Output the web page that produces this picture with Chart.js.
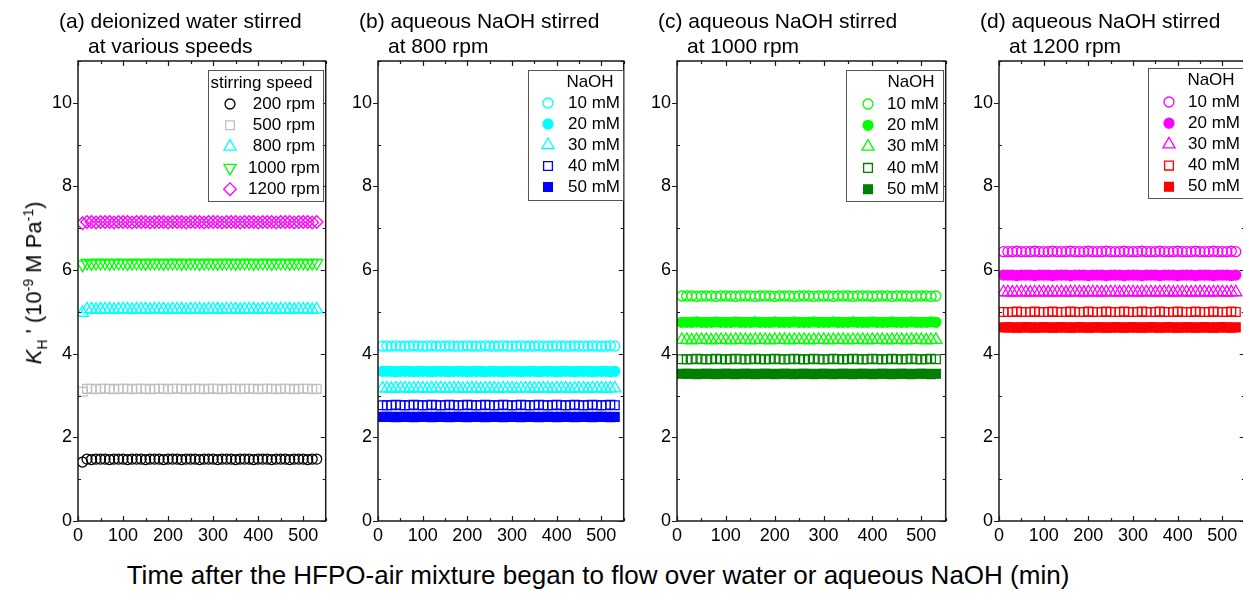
<!DOCTYPE html>
<html>
<head>
<meta charset="utf-8">
<script src="https://cdn.jsdelivr.net/npm/chart.js@4.4.0/dist/chart.umd.min.js"></script>
<style>
  html, body { margin: 0; padding: 0; background: #fff; overflow: hidden; }
  body { width: 1243px; height: 593px; position: relative; font-family: "Liberation Sans", Arial, sans-serif; color: #000; }
  .panel { position: absolute; top: 0; }
  #xTitle { position: absolute; left: 0; width: 1196px; top: 560px; line-height: 30px; text-align: center; font-size: 26px; white-space: nowrap; }
  #yTitle { position: absolute; left: 35px; top: 283px; font-size: 22px; white-space: nowrap; transform: translate(-50%, -50%) rotate(-90deg); }
  #yTitle sub, #yTitle sup { font-size: 14px; }
</style>
</head>
<body>

<div class="panel" style="left:0px"><canvas id="pa" width="334" height="560"></canvas></div>
<div class="panel" style="left:333px"><canvas id="pb" width="299" height="560"></canvas></div>
<div class="panel" style="left:632px"><canvas id="pc" width="322" height="560"></canvas></div>
<div class="panel" style="left:954px"><canvas id="pd" width="299" height="560"></canvas></div>

<div id="yTitle"><i>K</i><sub>H</sub> ' (10<sup>-9</sup> M Pa<sup>-1</sup>)</div>
<div id="xTitle">Time after the HFPO-air mixture began to flow over water or aqueous NaOH (min)</div>

<script>
// sampling times (min)
const times = [10, 20, 30, 40, 50, 60, 70, 80, 90, 100, 110, 120, 130, 140, 150, 160, 170, 180, 190, 200,
  210, 220, 230, 240, 250, 260, 270, 280, 290, 300, 310, 320, 330, 340, 350, 360, 370, 380, 390, 400,
  410, 420, 430, 440, 450, 460, 470, 480, 490, 500, 510, 520, 530];

const speedLabels = ['200 rpm', '500 rpm', '800 rpm', '1000 rpm', '1200 rpm'];
const naohLabels = ['10 mM', '20 mM', '30 mM', '40 mM', '50 mM'];
const xTicks = [0, 100, 200, 300, 400, 500];
const yTicks = [0, 2, 4, 6, 8, 10];

// (a) deionized water, K_H' per stirring speed
const w200 = [1.41, 1.48, 1.47, 1.48, 1.48, 1.48, 1.47, 1.48, 1.48, 1.48, 1.47, 1.48, 1.48, 1.48, 1.47, 1.48, 1.48, 1.48, 1.47, 1.48, 1.48, 1.48, 1.47, 1.48, 1.48, 1.48, 1.47, 1.48, 1.48, 1.48, 1.47, 1.48, 1.48, 1.48, 1.47, 1.48, 1.48, 1.48, 1.47, 1.48, 1.48, 1.48, 1.47, 1.48, 1.48, 1.48, 1.47, 1.48, 1.48, 1.48, 1.47, 1.48, 1.48];
const w500 = [3.09, 3.16, 3.16, 3.15, 3.16, 3.16, 3.16, 3.15, 3.16, 3.16, 3.16, 3.15, 3.16, 3.16, 3.16, 3.15, 3.16, 3.16, 3.16, 3.15, 3.16, 3.16, 3.16, 3.15, 3.16, 3.16, 3.16, 3.15, 3.16, 3.16, 3.16, 3.15, 3.16, 3.16, 3.16, 3.15, 3.16, 3.16, 3.16, 3.15, 3.16, 3.16, 3.16, 3.15, 3.16, 3.16, 3.16, 3.15, 3.16, 3.16, 3.16, 3.15, 3.16];
const w800 = [4.98, 5.06, 5.06, 5.05, 5.06, 5.06, 5.06, 5.05, 5.06, 5.06, 5.06, 5.05, 5.06, 5.06, 5.06, 5.05, 5.06, 5.06, 5.06, 5.05, 5.06, 5.06, 5.06, 5.05, 5.06, 5.06, 5.06, 5.05, 5.06, 5.06, 5.06, 5.05, 5.06, 5.06, 5.06, 5.05, 5.06, 5.06, 5.06, 5.05, 5.06, 5.06, 5.06, 5.05, 5.06, 5.06, 5.06, 5.05, 5.06, 5.06, 5.06, 5.05, 5.06];
const w1000 = [6.13, 6.17, 6.16, 6.17, 6.17, 6.17, 6.16, 6.17, 6.17, 6.17, 6.16, 6.17, 6.17, 6.17, 6.16, 6.17, 6.17, 6.17, 6.16, 6.17, 6.17, 6.17, 6.16, 6.17, 6.17, 6.17, 6.16, 6.17, 6.17, 6.17, 6.16, 6.17, 6.17, 6.17, 6.16, 6.17, 6.17, 6.17, 6.16, 6.17, 6.17, 6.17, 6.16, 6.17, 6.17, 6.17, 6.16, 6.17, 6.17, 6.17, 6.16, 6.17, 6.17];
const w1200 = [7.12, 7.15, 7.15, 7.14, 7.15, 7.15, 7.15, 7.14, 7.15, 7.15, 7.15, 7.14, 7.15, 7.15, 7.15, 7.14, 7.15, 7.15, 7.15, 7.14, 7.15, 7.15, 7.15, 7.14, 7.15, 7.15, 7.15, 7.14, 7.15, 7.15, 7.15, 7.14, 7.15, 7.15, 7.15, 7.14, 7.15, 7.15, 7.15, 7.14, 7.15, 7.15, 7.15, 7.14, 7.15, 7.15, 7.15, 7.14, 7.15, 7.15, 7.15, 7.14, 7.15];

// (b) NaOH at 800 rpm
const b10 = [4.18, 4.18, 4.18, 4.19, 4.18, 4.18, 4.18, 4.19, 4.18, 4.18, 4.18, 4.19, 4.18, 4.18, 4.18, 4.19, 4.18, 4.18, 4.18, 4.19, 4.18, 4.18, 4.18, 4.19, 4.18, 4.18, 4.18, 4.19, 4.18, 4.18, 4.18, 4.19, 4.18, 4.18, 4.18, 4.19, 4.18, 4.18, 4.18, 4.19, 4.18, 4.18, 4.18, 4.19, 4.18, 4.18, 4.18, 4.19, 4.18, 4.18, 4.18, 4.19, 4.18];
const b20 = [3.58, 3.58, 3.58, 3.57, 3.58, 3.58, 3.58, 3.57, 3.58, 3.58, 3.58, 3.57, 3.58, 3.58, 3.58, 3.57, 3.58, 3.58, 3.58, 3.57, 3.58, 3.58, 3.58, 3.57, 3.58, 3.58, 3.58, 3.57, 3.58, 3.58, 3.58, 3.57, 3.58, 3.58, 3.58, 3.57, 3.58, 3.58, 3.58, 3.57, 3.58, 3.58, 3.58, 3.57, 3.58, 3.58, 3.58, 3.57, 3.58, 3.58, 3.58, 3.57, 3.58];
const b30 = [3.17, 3.17, 3.16, 3.17, 3.17, 3.17, 3.16, 3.17, 3.17, 3.17, 3.16, 3.17, 3.17, 3.17, 3.16, 3.17, 3.17, 3.17, 3.16, 3.17, 3.17, 3.17, 3.16, 3.17, 3.17, 3.17, 3.16, 3.17, 3.17, 3.17, 3.16, 3.17, 3.17, 3.17, 3.16, 3.17, 3.17, 3.17, 3.16, 3.17, 3.17, 3.17, 3.16, 3.17, 3.17, 3.17, 3.16, 3.17, 3.17, 3.17, 3.16, 3.17, 3.17];
const b40 = [2.77, 2.77, 2.77, 2.78, 2.77, 2.77, 2.77, 2.78, 2.77, 2.77, 2.77, 2.78, 2.77, 2.77, 2.77, 2.78, 2.77, 2.77, 2.77, 2.78, 2.77, 2.77, 2.77, 2.78, 2.77, 2.77, 2.77, 2.78, 2.77, 2.77, 2.77, 2.78, 2.77, 2.77, 2.77, 2.78, 2.77, 2.77, 2.77, 2.78, 2.77, 2.77, 2.77, 2.78, 2.77, 2.77, 2.77, 2.78, 2.77, 2.77, 2.77, 2.78, 2.77];
const b50 = [2.49, 2.49, 2.49, 2.48, 2.49, 2.49, 2.49, 2.48, 2.49, 2.49, 2.49, 2.48, 2.49, 2.49, 2.49, 2.48, 2.49, 2.49, 2.49, 2.48, 2.49, 2.49, 2.49, 2.48, 2.49, 2.49, 2.49, 2.48, 2.49, 2.49, 2.49, 2.48, 2.49, 2.49, 2.49, 2.48, 2.49, 2.49, 2.49, 2.48, 2.49, 2.49, 2.49, 2.48, 2.49, 2.49, 2.49, 2.48, 2.49, 2.49, 2.49, 2.48, 2.49];

// (c) NaOH at 1000 rpm
const c10 = [5.38, 5.38, 5.38, 5.37, 5.38, 5.38, 5.38, 5.37, 5.38, 5.38, 5.38, 5.37, 5.38, 5.38, 5.38, 5.37, 5.38, 5.38, 5.38, 5.37, 5.38, 5.38, 5.38, 5.37, 5.38, 5.38, 5.38, 5.37, 5.38, 5.38, 5.38, 5.37, 5.38, 5.38, 5.38, 5.37, 5.38, 5.38, 5.38, 5.37, 5.38, 5.38, 5.38, 5.37, 5.38, 5.38, 5.38, 5.37, 5.38, 5.38, 5.38, 5.37, 5.38];
const c20 = [4.75, 4.75, 4.75, 4.76, 4.75, 4.75, 4.75, 4.76, 4.75, 4.75, 4.75, 4.76, 4.75, 4.75, 4.75, 4.76, 4.75, 4.75, 4.75, 4.76, 4.75, 4.75, 4.75, 4.76, 4.75, 4.75, 4.75, 4.76, 4.75, 4.75, 4.75, 4.76, 4.75, 4.75, 4.75, 4.76, 4.75, 4.75, 4.75, 4.76, 4.75, 4.75, 4.75, 4.76, 4.75, 4.75, 4.75, 4.76, 4.75, 4.75, 4.75, 4.76, 4.75];
const c30 = [4.33, 4.33, 4.32, 4.33, 4.33, 4.33, 4.32, 4.33, 4.33, 4.33, 4.32, 4.33, 4.33, 4.33, 4.32, 4.33, 4.33, 4.33, 4.32, 4.33, 4.33, 4.33, 4.32, 4.33, 4.33, 4.33, 4.32, 4.33, 4.33, 4.33, 4.32, 4.33, 4.33, 4.33, 4.32, 4.33, 4.33, 4.33, 4.32, 4.33, 4.33, 4.33, 4.32, 4.33, 4.33, 4.33, 4.32, 4.33, 4.33, 4.33, 4.32, 4.33, 4.33];
const c40 = [3.87, 3.87, 3.87, 3.88, 3.87, 3.87, 3.87, 3.88, 3.87, 3.87, 3.87, 3.88, 3.87, 3.87, 3.87, 3.88, 3.87, 3.87, 3.87, 3.88, 3.87, 3.87, 3.87, 3.88, 3.87, 3.87, 3.87, 3.88, 3.87, 3.87, 3.87, 3.88, 3.87, 3.87, 3.87, 3.88, 3.87, 3.87, 3.87, 3.88, 3.87, 3.87, 3.87, 3.88, 3.87, 3.87, 3.87, 3.88, 3.87, 3.87, 3.87, 3.88, 3.87];
const c50 = [3.52, 3.52, 3.52, 3.51, 3.52, 3.52, 3.52, 3.51, 3.52, 3.52, 3.52, 3.51, 3.52, 3.52, 3.52, 3.51, 3.52, 3.52, 3.52, 3.51, 3.52, 3.52, 3.52, 3.51, 3.52, 3.52, 3.52, 3.51, 3.52, 3.52, 3.52, 3.51, 3.52, 3.52, 3.52, 3.51, 3.52, 3.52, 3.52, 3.51, 3.52, 3.52, 3.52, 3.51, 3.52, 3.52, 3.52, 3.51, 3.52, 3.52, 3.52, 3.51, 3.52];

// (d) NaOH at 1200 rpm
const d10 = [6.44, 6.44, 6.44, 6.45, 6.44, 6.44, 6.44, 6.45, 6.44, 6.44, 6.44, 6.45, 6.44, 6.44, 6.44, 6.45, 6.44, 6.44, 6.44, 6.45, 6.44, 6.44, 6.44, 6.45, 6.44, 6.44, 6.44, 6.45, 6.44, 6.44, 6.44, 6.45, 6.44, 6.44, 6.44, 6.45, 6.44, 6.44, 6.44, 6.45, 6.44, 6.44, 6.44, 6.45, 6.44, 6.44, 6.44, 6.45, 6.44, 6.44, 6.44, 6.45, 6.44];
const d20 = [5.88, 5.88, 5.88, 5.87, 5.88, 5.88, 5.88, 5.87, 5.88, 5.88, 5.88, 5.87, 5.88, 5.88, 5.88, 5.87, 5.88, 5.88, 5.88, 5.87, 5.88, 5.88, 5.88, 5.87, 5.88, 5.88, 5.88, 5.87, 5.88, 5.88, 5.88, 5.87, 5.88, 5.88, 5.88, 5.87, 5.88, 5.88, 5.88, 5.87, 5.88, 5.88, 5.88, 5.87, 5.88, 5.88, 5.88, 5.87, 5.88, 5.88, 5.88, 5.87, 5.88];
const d30 = [5.47, 5.47, 5.46, 5.47, 5.47, 5.47, 5.46, 5.47, 5.47, 5.47, 5.46, 5.47, 5.47, 5.47, 5.46, 5.47, 5.47, 5.47, 5.46, 5.47, 5.47, 5.47, 5.46, 5.47, 5.47, 5.47, 5.46, 5.47, 5.47, 5.47, 5.46, 5.47, 5.47, 5.47, 5.46, 5.47, 5.47, 5.47, 5.46, 5.47, 5.47, 5.47, 5.46, 5.47, 5.47, 5.47, 5.46, 5.47, 5.47, 5.47, 5.46, 5.47, 5.47];
const d40 = [5.00, 5.00, 5.00, 5.01, 5.00, 5.00, 5.00, 5.01, 5.00, 5.00, 5.00, 5.01, 5.00, 5.00, 5.00, 5.01, 5.00, 5.00, 5.00, 5.01, 5.00, 5.00, 5.00, 5.01, 5.00, 5.00, 5.00, 5.01, 5.00, 5.00, 5.00, 5.01, 5.00, 5.00, 5.00, 5.01, 5.00, 5.00, 5.00, 5.01, 5.00, 5.00, 5.00, 5.01, 5.00, 5.00, 5.00, 5.01, 5.00, 5.00, 5.00, 5.01, 5.00];
const d50 = [4.63, 4.63, 4.63, 4.62, 4.63, 4.63, 4.63, 4.62, 4.63, 4.63, 4.63, 4.62, 4.63, 4.63, 4.63, 4.62, 4.63, 4.63, 4.63, 4.62, 4.63, 4.63, 4.63, 4.62, 4.63, 4.63, 4.63, 4.62, 4.63, 4.63, 4.63, 4.62, 4.63, 4.63, 4.63, 4.62, 4.63, 4.63, 4.63, 4.62, 4.63, 4.63, 4.63, 4.62, 4.63, 4.63, 4.63, 4.62, 4.63, 4.63, 4.63, 4.62, 4.63];

const FONT = '"Liberation Sans", Arial, sans-serif';
Chart.defaults.font.family = FONT;
Chart.defaults.color = '#000';

const pts = vals => times.map((t, i) => ({ x: t, y: vals[i] }));

// marker styles
const CYAN = '#00ffff', GREEN = '#00ff00', DKGREEN = '#008000', BLUE = '#0000ff', MAGENTA = '#ff00ff', RED = '#ff0000';
const openCircle = c => ({ style: 'circle', r: 5, color: c, fill: false });
const fullCircle = c => ({ style: 'circle', r: 5, color: c, fill: true });
const openTri = c => ({ style: 'triangle', r: 7, color: c, fill: false });
const openSq = c => ({ style: 'rect', r: 6.2, color: c, fill: false });
const fullSq = c => ({ style: 'rect', r: 6.2, color: c, fill: true });

function makeSet(label, vals, m) {
  return {
    label,
    data: pts(vals),
    showLine: false,
    pointStyle: m.style,
    pointRotation: m.rot || 0,
    pointRadius: m.r,
    pointHoverRadius: m.r,
    pointBorderWidth: 1.3,
    pointBorderColor: m.color,
    pointBackgroundColor: m.fill ? m.color : 'rgba(0,0,0,0)'
  };
}

const panels = [
  {
    id: 'pa', left: 0, plotLeft: 78,
    title: ['(a) deionized water stirred', 'at various speeds'],
    sets: [
      makeSet(speedLabels[0], w200, { style: 'circle', r: 5, color: '#000000' }),
      makeSet(speedLabels[1], w500, { style: 'rect', r: 6.2, color: '#c0c0c0' }),
      makeSet(speedLabels[2], w800, { style: 'triangle', r: 7, color: CYAN }),
      makeSet(speedLabels[3], w1000, { style: 'triangle', rot: 180, r: 7, color: GREEN }),
      makeSet(speedLabels[4], w1200, { style: 'rectRot', r: 6.3, color: MAGENTA })
    ],
    legend: { header: 'stirring speed', box: [208, 70, 323, 201], headerX: 261.5, headerY: 83,
      markerX: 230, textX: 284, align: 'center', rowY: 104, rowStep: 21.3 }
  },
  {
    id: 'pb', left: 333, plotLeft: 378,
    title: ['(b) aqueous NaOH stirred', 'at 800 rpm'],
    sets: [
      makeSet(naohLabels[0], b10, openCircle(CYAN)),
      makeSet(naohLabels[1], b20, fullCircle(CYAN)),
      makeSet(naohLabels[2], b30, openTri(CYAN)),
      makeSet(naohLabels[3], b40, openSq(BLUE)),
      makeSet(naohLabels[4], b50, fullSq(BLUE))
    ],
    legend: { header: 'NaOH', box: [528, 70, 623, 200], headerX: 590, headerY: 82,
      markerX: 548, textX: 568, align: 'left', rowY: 103, rowStep: 21 }
  },
  {
    id: 'pc', left: 632, plotLeft: 677,
    title: ['(c) aqueous NaOH stirred', 'at 1000 rpm'],
    sets: [
      makeSet(naohLabels[0], c10, openCircle(GREEN)),
      makeSet(naohLabels[1], c20, fullCircle(GREEN)),
      makeSet(naohLabels[2], c30, openTri(GREEN)),
      makeSet(naohLabels[3], c40, openSq(DKGREEN)),
      makeSet(naohLabels[4], c50, fullSq(DKGREEN))
    ],
    legend: { header: 'NaOH', box: [846, 70, 943, 201], headerX: 911, headerY: 82,
      markerX: 868, textX: 887, align: 'left', rowY: 104, rowStep: 21.3 }
  },
  {
    id: 'pd', left: 954, plotLeft: 999,
    title: ['(d) aqueous NaOH stirred', 'at 1200 rpm'],
    sets: [
      makeSet(naohLabels[0], d10, openCircle(MAGENTA)),
      makeSet(naohLabels[1], d20, fullCircle(MAGENTA)),
      makeSet(naohLabels[2], d30, openTri(MAGENTA)),
      makeSet(naohLabels[3], d40, openSq(RED)),
      makeSet(naohLabels[4], d50, fullSq(RED))
    ],
    legend: { header: 'NaOH', box: [1148, 68, 1250, 198], headerX: 1211, headerY: 80,
      markerX: 1169, textX: 1188, align: 'left', rowY: 102, rowStep: 21.2 }
  }
];

// box frame with Origin-style ticks (x ticks inside, y majors outside / minors inside)
const frame = {
  id: 'frame',
  afterDraw(chart) {
    const { ctx, chartArea: a, scales: { x, y } } = chart;
    ctx.save();
    ctx.strokeStyle = '#1a1a1a';
    ctx.lineWidth = 1.5;
    ctx.strokeRect(a.left, a.top, a.right - a.left, a.bottom - a.top);
    ctx.beginPath();
    for (let v = 0; v <= x.max; v += 50) {
      const px = Math.round(x.getPixelForValue(v)) + 0.5;
      const len = v % 100 === 0 ? 5 : 3;
      ctx.moveTo(px, a.bottom); ctx.lineTo(px, a.bottom - len);
      ctx.moveTo(px, a.top); ctx.lineTo(px, a.top + len);
    }
    for (let v = 0; v <= y.max; v += 1) {
      const py = Math.round(y.getPixelForValue(v)) + 0.5;
      if (v % 2 === 0) {
        ctx.moveTo(a.left, py); ctx.lineTo(a.left - 5, py);
        ctx.moveTo(a.right, py); ctx.lineTo(a.right - 5, py);
      } else {
        ctx.moveTo(a.left, py); ctx.lineTo(a.left + 3, py);
        ctx.moveTo(a.right, py); ctx.lineTo(a.right - 3, py);
      }
    }
    ctx.lineWidth = 1.2;
    ctx.stroke();
    ctx.restore();
  }
};

// two-line panel heading above the plot
const heading = {
  id: 'heading',
  afterDraw(chart, args, opts) {
    const { ctx, chartArea: a } = chart;
    ctx.save();
    ctx.fillStyle = '#000';
    ctx.font = '21px ' + FONT;
    ctx.textBaseline = 'middle';
    ctx.textAlign = 'left';
    ctx.fillText(opts.lines[0], a.left - 19, 22);
    ctx.fillText(opts.lines[1], a.left + 10, 47);
    ctx.restore();
  }
};

// framed legend drawn inside the plot area
const boxLegend = {
  id: 'boxLegend',
  afterDraw(chart, args, opts) {
    const ctx = chart.ctx;
    const off = opts.offset;
    const [x1, y1, x2, y2] = opts.box;
    ctx.save();
    ctx.fillStyle = '#fff';
    ctx.fillRect(x1 - off, y1, x2 - x1, y2 - y1);
    ctx.strokeStyle = '#555';
    ctx.lineWidth = 1;
    ctx.strokeRect(x1 - off + 0.5, y1 + 0.5, x2 - x1, y2 - y1);
    ctx.font = '17px ' + FONT;
    ctx.textBaseline = 'middle';
    ctx.fillStyle = '#000';
    ctx.textAlign = 'center';
    ctx.fillText(opts.header, opts.headerX - off, opts.headerY);
    chart.data.datasets.forEach((ds, i) => {
      const yy = opts.rowY + i * opts.rowStep;
      ctx.fillStyle = ds.pointBackgroundColor;
      ctx.strokeStyle = ds.pointBorderColor;
      ctx.lineWidth = ds.pointBorderWidth;
      Chart.helpers.drawPoint(ctx, {
        pointStyle: ds.pointStyle, rotation: ds.pointRotation, radius: ds.pointRadius,
        borderWidth: ds.pointBorderWidth
      }, opts.markerX - off, yy);
      ctx.fillStyle = '#000';
      ctx.textAlign = opts.align;
      ctx.fillText(ds.label, opts.textX - off, yy);
    });
    ctx.restore();
  }
};

panels.forEach(p => {
  const yWidth = p.plotLeft - p.left;
  new Chart(document.getElementById(p.id), {
    type: 'scatter',
    data: { datasets: p.sets },
    options: {
      responsive: false,
      animation: false,
      events: [],
      layout: { padding: { top: 61, right: 2, left: 0, bottom: 0 } },
      plugins: {
        legend: { display: false },
        tooltip: { enabled: false },
        heading: { lines: p.title },
        boxLegend: Object.assign({ offset: p.left }, p.legend)
      },
      scales: {
        x: {
          type: 'linear', min: 0, max: 550,
          grid: { display: false, drawTicks: false },
          border: { display: false },
          afterFit: s => { s.height = 39; },
          afterBuildTicks: s => { s.ticks = xTicks.map(v => ({ value: v })); },
          ticks: { padding: 4, font: { size: 18 }, maxRotation: 0, autoSkip: false }
        },
        y: {
          type: 'linear', min: 0, max: 11,
          grid: { display: false, drawTicks: false },
          border: { display: false },
          afterFit: s => { s.width = yWidth; },
          afterBuildTicks: s => { s.ticks = yTicks.map(v => ({ value: v })); },
          ticks: { padding: 6, font: { size: 18 }, autoSkip: false }
        }
      }
    },
    plugins: [frame, heading, boxLegend]
  });
});
</script>
</body>
</html>
